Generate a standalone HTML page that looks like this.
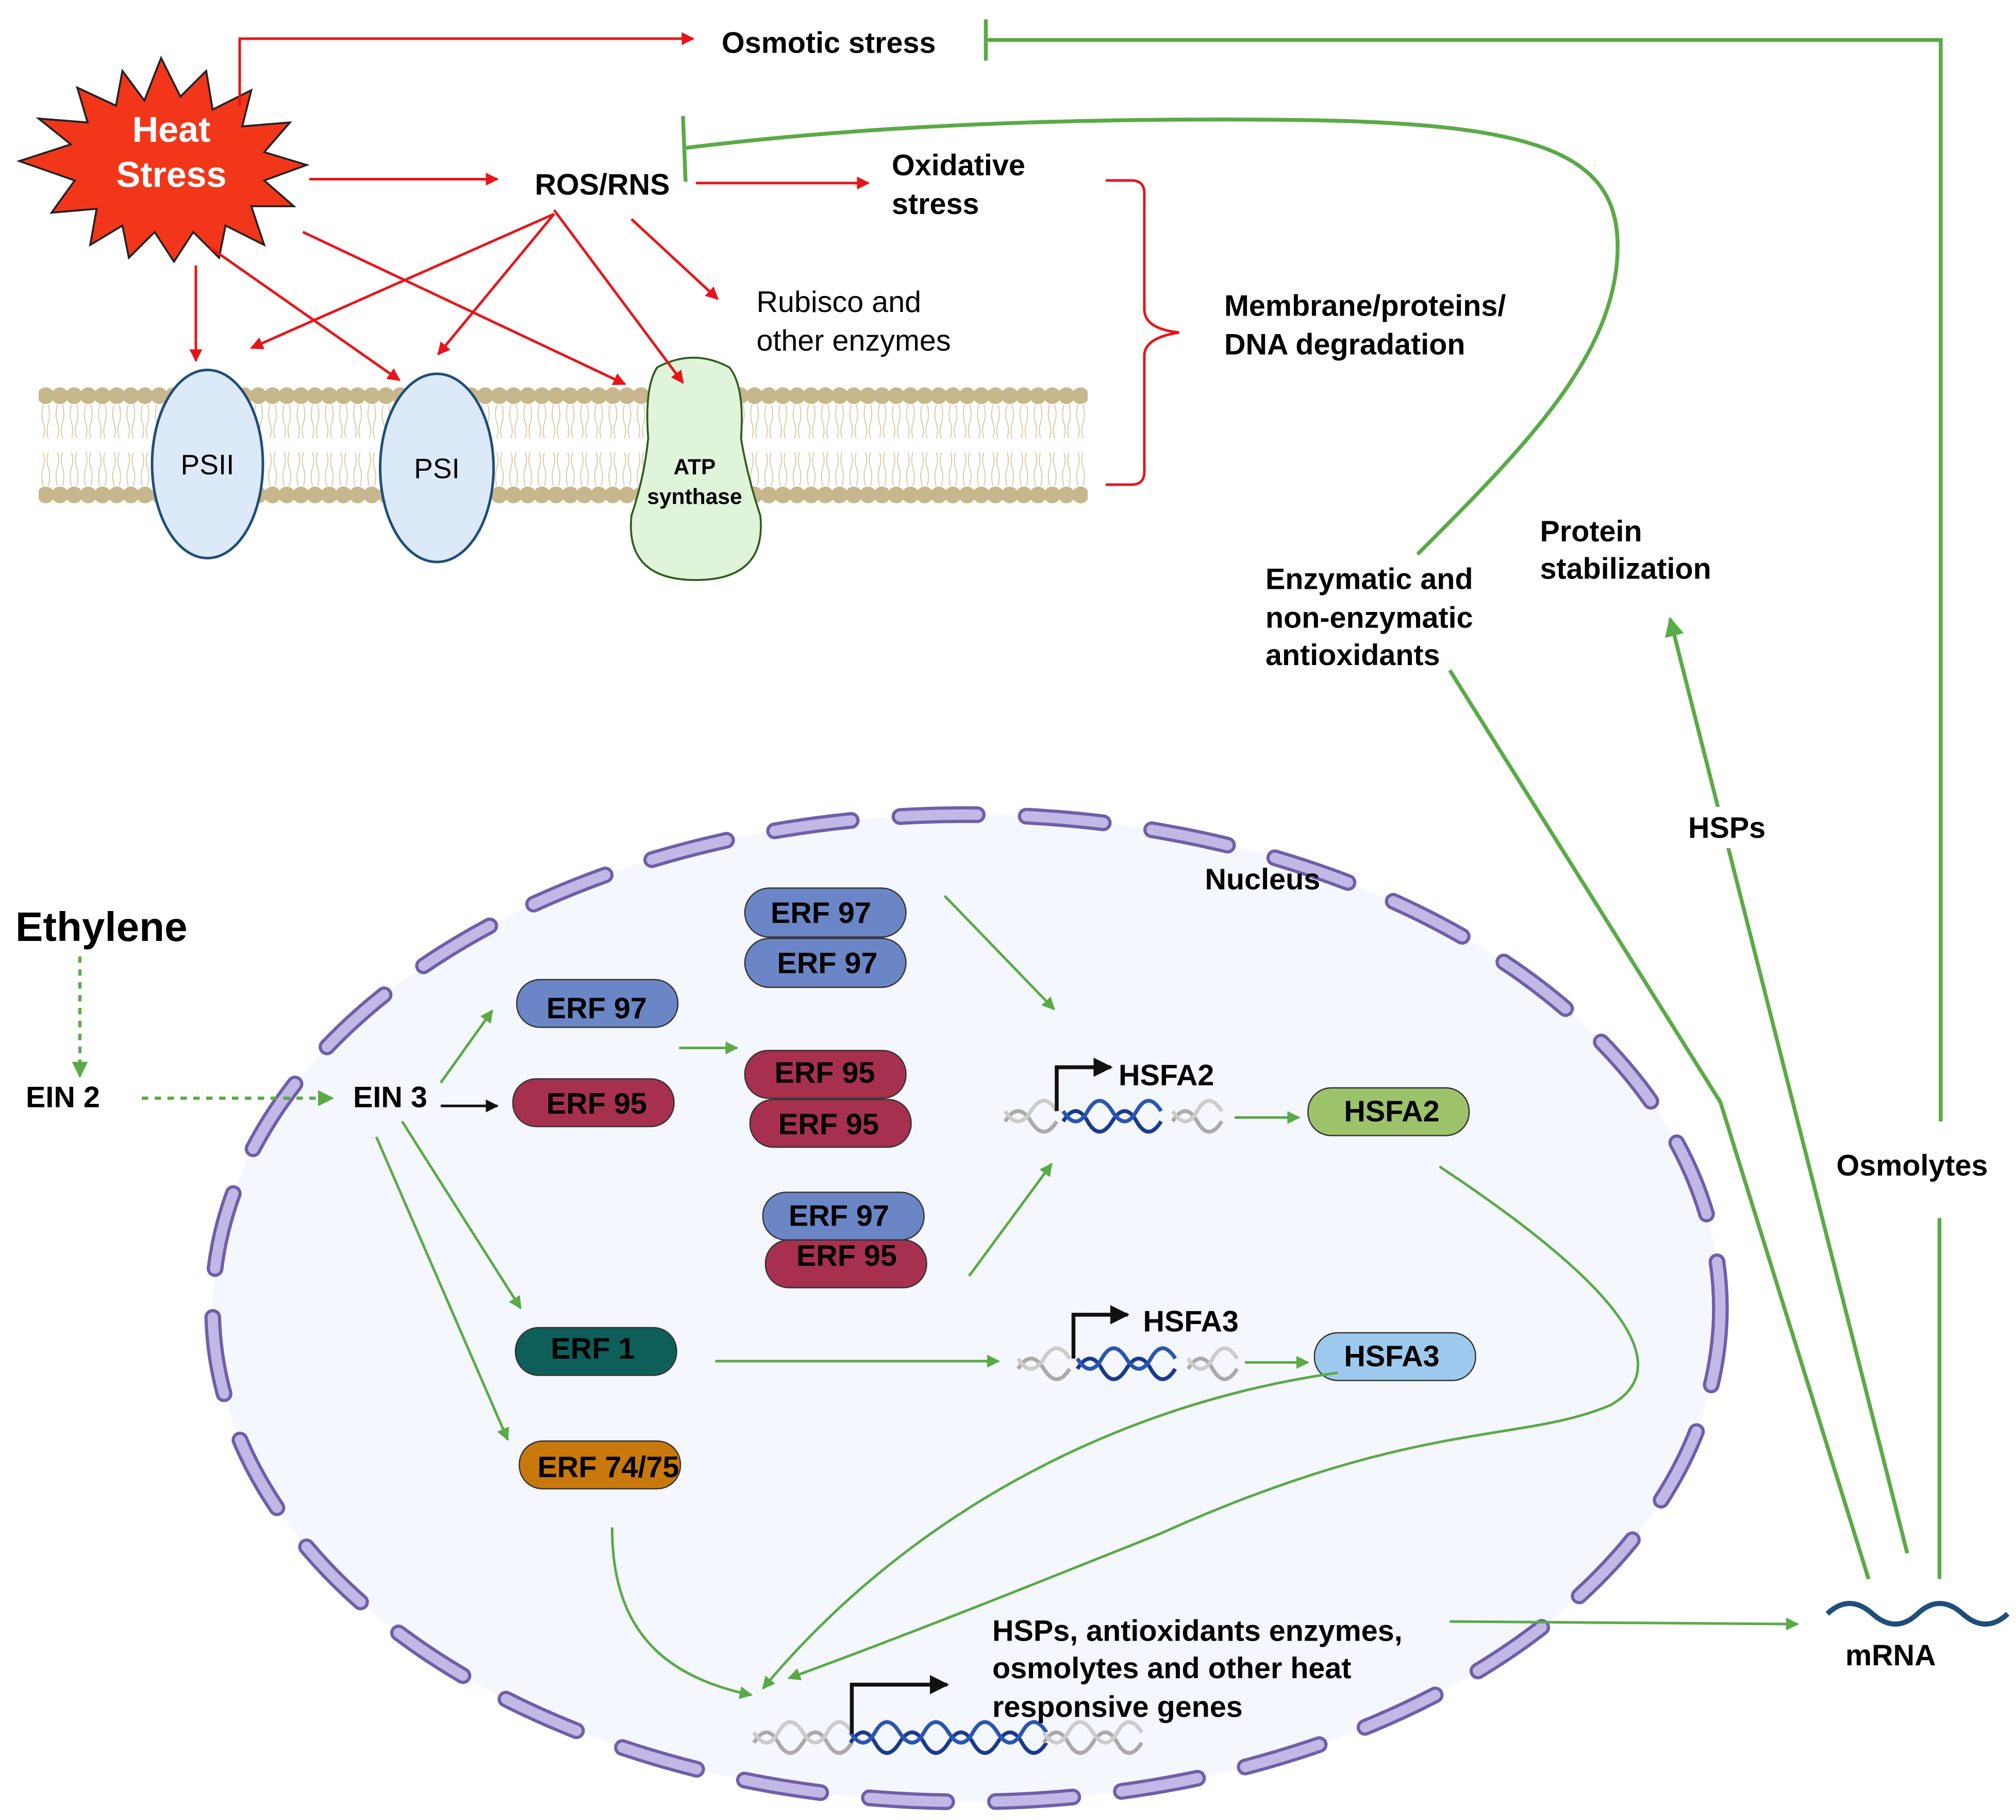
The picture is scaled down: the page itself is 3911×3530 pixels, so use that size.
<!DOCTYPE html>
<html><head><meta charset="utf-8"><style>
html,body{margin:0;padding:0;background:#fff}
svg{display:block}
text{font-family:"Liberation Sans",sans-serif}
.b{font-weight:bold}
</style></head><body>
<svg width="3911" height="3530" viewBox="0 0 1564.4 1412" xmlns="http://www.w3.org/2000/svg">
<defs>
<marker id="ar" viewBox="0 0 10 10" refX="9" refY="5" markerWidth="5" markerHeight="5" orient="auto"><path d="M0,0L10,5L0,10z" fill="#e8141a"/></marker>
<marker id="ag" viewBox="0 0 10 10" refX="9" refY="5" markerWidth="5" markerHeight="5" orient="auto"><path d="M0,0L10,5L0,10z" fill="#5aaa46"/></marker>
<marker id="ak" viewBox="0 0 10 10" refX="9" refY="5" markerWidth="5" markerHeight="5" orient="auto"><path d="M0,0L10,5L0,10z" fill="#111"/></marker>
<pattern id="mem" x="30" y="0" width="11" height="400" patternUnits="userSpaceOnUse">
<circle cx="5.5" cy="307" r="6.5" fill="#c8b68c"/>
<circle cx="5.5" cy="384" r="6.5" fill="#c8b68c"/>
<path d="M3.5,314 q-2,8 0,14 q2,6 0,12 M7.5,314 q2,8 0,14 q-2,6 0,12 M3.5,377 q-2,-8 0,-14 q2,-6 0,-12 M7.5,377 q2,-8 0,-14 q-2,-6 0,-12" stroke="#d8cca8" stroke-width="0.8" fill="none"/>
</pattern>
</defs>

<!-- Heat stress star -->
<polygon fill="#f2361a" stroke="#222" stroke-width="1.5" points="
125,45 140,75 160,55 165,85 195,70 188,98 225,95 205,118 238,128 205,140 228,160 195,160 205,190 175,175 170,200 150,180 135,203 120,180 100,200 95,175 70,190 75,162 40,165 58,140 15,125 55,112 30,92 68,95 60,68 90,82 95,55 112,78"/>
<text x="133" y="110" font-size="28" fill="#fff" class="b" text-anchor="middle">Heat</text>
<text x="133" y="145" font-size="28" fill="#fff" class="b" text-anchor="middle">Stress</text>

<!-- top lines -->
<polyline points="186,82 186,30 538,30" fill="none" stroke="#e8141a" stroke-width="2" marker-end="url(#ar)"/>
<text x="560" y="41" font-size="23" class="b">Osmotic stress</text>
<polyline points="1506,870 1506,31 765,31" fill="none" stroke="#5aaa46" stroke-width="3"/>
<line x1="765" y1="15" x2="765" y2="47" stroke="#5aaa46" stroke-width="3"/>
<line x1="240" y1="139" x2="386" y2="139" stroke="#e8141a" stroke-width="2" marker-end="url(#ar)"/>
<text x="415" y="151" font-size="23" class="b">ROS/RNS</text>
<line x1="540" y1="142" x2="674" y2="142" stroke="#e8141a" stroke-width="2" marker-end="url(#ar)"/>
<text x="692" y="136" font-size="23" class="b">Oxidative</text>
<text x="692" y="166" font-size="23" class="b">stress</text>

<path d="M1100,430 C1180,350 1250,280 1255,200 C1260,120 1200,95 1000,93 C800,91 650,100 530,115" fill="none" stroke="#5aaa46" stroke-width="3"/>
<line x1="530" y1="90" x2="532" y2="141" stroke="#5aaa46" stroke-width="3"/>

<!-- brace -->
<path d="M858,140 H878 Q888,140 888,150 V240 Q888,255 915,258 Q888,262 888,276 V366 Q888,376 878,376 H858" fill="none" stroke="#e8141a" stroke-width="2"/>
<text x="950" y="245" font-size="23" class="b">Membrane/proteins/</text>
<text x="950" y="275" font-size="23" class="b">DNA degradation</text>

<!-- membrane -->
<rect x="30" y="295" width="814" height="100" fill="url(#mem)"/>
<ellipse cx="161" cy="360" rx="43" ry="73" fill="#dce9f8" stroke="#1f4e79" stroke-width="2"/>
<text x="161" y="368" font-size="22" text-anchor="middle">PSII</text>
<ellipse cx="339" cy="363" rx="44" ry="73" fill="#dce9f8" stroke="#1f4e79" stroke-width="2"/>
<text x="339" y="371" font-size="22" text-anchor="middle">PSI</text>
<path d="M510,285 Q538,270 566,285 Q578,300 575,340 Q580,370 590,400 Q595,450 540,450 Q485,450 490,400 Q500,370 503,340 Q500,300 510,285Z" fill="#e0f4da" stroke="#2e5c1e" stroke-width="1.5"/>
<text x="539" y="368" font-size="17" class="b" text-anchor="middle">ATP</text>
<text x="539" y="391" font-size="17" class="b" text-anchor="middle">synthase</text>

<!-- red arrows -->
<g stroke="#e8141a" stroke-width="2" marker-end="url(#ar)">
<line x1="152" y1="206" x2="152" y2="280"/>
<line x1="163" y1="192" x2="310" y2="295"/>
<line x1="235" y1="180" x2="485" y2="298"/>
<line x1="430" y1="166" x2="195" y2="270"/>
<line x1="430" y1="166" x2="340" y2="275"/>
<line x1="430" y1="163" x2="530" y2="297"/>
<line x1="490" y1="170" x2="557" y2="232"/>
</g>
<text x="587" y="242" font-size="23">Rubisco and</text>
<text x="587" y="272" font-size="23">other enzymes</text>

<!-- right side -->
<text x="982" y="457" font-size="23" class="b">Enzymatic and</text>
<text x="982" y="487" font-size="23" class="b">non-enzymatic</text>
<text x="982" y="516" font-size="23" class="b">antioxidants</text>
<text x="1195" y="420" font-size="23" class="b">Protein</text>
<text x="1195" y="449" font-size="23" class="b">stabilization</text>
<line x1="1480" y1="1205" x2="1296" y2="480" stroke="#5aaa46" stroke-width="3" marker-end="url(#ag)"/>
<rect x="1300" y="626" width="80" height="32" fill="#fff"/>
<text x="1310" y="650" font-size="23" class="b">HSPs</text>
<polyline points="1450,1225 1335,855 1125,520" fill="none" stroke="#5aaa46" stroke-width="3"/>
<rect x="1420" y="875" width="140" height="65" fill="#fff"/>
<text x="1425" y="912" font-size="23" class="b">Osmolytes</text>
<line x1="1505" y1="945" x2="1505" y2="1225" stroke="#5aaa46" stroke-width="3"/>
<path d="M1418,1252 q17,-16 35,0 t35,0 t35,0 t35,0" fill="none" stroke="#1f4e79" stroke-width="4"/>
<text x="1432" y="1292" font-size="23" class="b">mRNA</text>

<!-- nucleus -->
<ellipse cx="750" cy="1015" rx="585" ry="383" fill="#f5f7fe"/>
<ellipse cx="750" cy="1015" rx="585" ry="383" fill="none" stroke="#6f5fa8" stroke-width="13" stroke-dasharray="60 38" stroke-linecap="round"/>
<ellipse cx="750" cy="1015" rx="585" ry="383" fill="none" stroke="#c2b8e6" stroke-width="8" stroke-dasharray="60 38" stroke-linecap="round"/>
<text x="935" y="690" font-size="23" class="b">Nucleus</text>

<text x="12" y="730" font-size="32" class="b">Ethylene</text>
<line x1="62" y1="742" x2="62" y2="835" stroke="#5aaa46" stroke-width="2.5" stroke-dasharray="5 5" marker-end="url(#ag)"/>
<text x="20" y="859" font-size="23" class="b">EIN 2</text>
<line x1="110" y1="852" x2="258" y2="852" stroke="#5aaa46" stroke-width="2.5" stroke-dasharray="5 5" marker-end="url(#ag)"/>
<text x="274" y="859" font-size="23" class="b">EIN 3</text>

<!-- pills -->
<g stroke="#333" stroke-width="1">
<rect x="578" y="689" width="125" height="38" rx="19" fill="#6b86c6"/>
<rect x="578" y="728" width="125" height="38" rx="19" fill="#6b86c6"/>
<rect x="401" y="760" width="125" height="37" rx="18" fill="#6b86c6"/>
<rect x="578" y="815" width="125" height="37" rx="18" fill="#a8304f"/>
<rect x="582" y="853" width="125" height="37" rx="18" fill="#a8304f"/>
<rect x="398" y="837" width="125" height="37" rx="18" fill="#a8304f"/>
<rect x="592" y="925" width="125" height="37" rx="18" fill="#6b86c6"/>
<rect x="594" y="962" width="125" height="37" rx="18" fill="#a8304f"/>
<rect x="400" y="1030" width="125" height="37" rx="18" fill="#0e5e5a"/>
<rect x="403" y="1118" width="125" height="37" rx="18" fill="#c9790c"/>
<rect x="1015" y="844" width="125" height="37" rx="18" fill="#9cc36a"/>
<rect x="1020" y="1034" width="125" height="37" rx="18" fill="#9ec9ef"/>
</g>
<g font-size="23" class="b" text-anchor="middle">
<text x="637" y="716">ERF 97</text>
<text x="642" y="755">ERF 97</text>
<text x="463" y="790">ERF 97</text>
<text x="640" y="840">ERF 95</text>
<text x="643" y="880">ERF 95</text>
<text x="463" y="864">ERF 95</text>
<text x="651" y="951">ERF 97</text>
<text x="657" y="982">ERF 95</text>
<text x="460" y="1054">ERF 1</text>
<text x="472" y="1146">ERF 74/75</text>
<text x="1080" y="870">HSFA2</text>
<text x="1080" y="1060">HSFA3</text>
</g>

<!-- green arrows in nucleus -->
<g stroke="#5aaa46" stroke-width="2" fill="none" marker-end="url(#ag)">
<line x1="342" y1="840" x2="382" y2="784"/>
<line x1="527" y1="813" x2="572" y2="813"/>
<line x1="733" y1="695" x2="818" y2="783"/>
<line x1="752" y1="990" x2="816" y2="903"/>
<line x1="312" y1="870" x2="404" y2="1015"/>
<line x1="292" y1="882" x2="394" y2="1117"/>
<line x1="555" y1="1056" x2="775" y2="1056"/>
<line x1="958" y1="867" x2="1008" y2="867"/>
<line x1="966" y1="1057" x2="1015" y2="1057"/>
<path d="M475,1185 C475,1260 510,1300 583,1315"/>
<path d="M1038,1065 C860,1090 700,1180 592,1310"/>
<path d="M1117,905 C1200,960 1320,1050 1250,1090 C1180,1120 1100,1100 900,1190 C800,1230 700,1270 612,1302"/>
<line x1="1125" y1="1258" x2="1395" y2="1260"/>
</g>
<line x1="342" y1="858" x2="386" y2="858" stroke="#111" stroke-width="2" marker-end="url(#ak)"/>

<!-- DNA genes -->
<g fill="none" stroke-width="3">
<path d="M780,870 q10,-16 20,0 t20,0" stroke="#aaa"/><path d="M780,862 q10,16 20,0 t20,0" stroke="#ccc"/>
<path d="M825,870 q10,-16 19,0 t19,0 t19,0 t19,0" stroke="#1a3a8c"/><path d="M825,862 q10,16 19,0 t19,0 t19,0 t19,0" stroke="#2a56b0"/>
<path d="M910,870 q10,-16 19,0 t19,0" stroke="#aaa"/><path d="M910,862 q10,16 19,0 t19,0" stroke="#ccc"/>
<path d="M790,1062 q10,-16 20,0 t20,0" stroke="#aaa"/><path d="M790,1054 q10,16 20,0 t20,0" stroke="#ccc"/>
<path d="M836,1062 q10,-16 19,0 t19,0 t19,0 t19,0" stroke="#1a3a8c"/><path d="M836,1054 q10,16 19,0 t19,0 t19,0 t19,0" stroke="#2a56b0"/>
<path d="M922,1062 q10,-16 19,0 t19,0" stroke="#aaa"/><path d="M922,1054 q10,16 19,0 t19,0" stroke="#ccc"/>
<path d="M585,1352 q10,-16 19,0 t19,0 t19,0 t19,0" stroke="#aaa"/><path d="M585,1344 q10,16 19,0 t19,0 t19,0 t19,0" stroke="#ccc"/>
<path d="M660,1352 q10,-16 19,0 t19,0 t19,0 t19,0 t19,0 t19,0 t19,0 t19,0" stroke="#1a3a8c"/><path d="M660,1344 q10,16 19,0 t19,0 t19,0 t19,0 t19,0 t19,0 t19,0 t19,0" stroke="#2a56b0"/>
<path d="M810,1352 q10,-16 19,0 t19,0 t19,0 t19,0" stroke="#aaa"/><path d="M810,1344 q10,16 19,0 t19,0 t19,0 t19,0" stroke="#ccc"/>
</g>
<g stroke="#111" stroke-width="3" fill="none" marker-end="url(#ak)">
<polyline points="820,862 820,828 862,828"/>
<polyline points="833,1054 833,1020 875,1020"/>
<polyline points="661,1345 661,1307 735,1307"/>
</g>
<text x="868" y="842" font-size="23" class="b">HSFA2</text>
<text x="887" y="1033" font-size="23" class="b">HSFA3</text>
<text x="770" y="1273" font-size="23" class="b">HSPs, antioxidants enzymes,</text>
<text x="770" y="1302" font-size="23" class="b">osmolytes  and other heat</text>
<text x="770" y="1332" font-size="23" class="b">responsive genes</text>
</svg>
</body></html>
